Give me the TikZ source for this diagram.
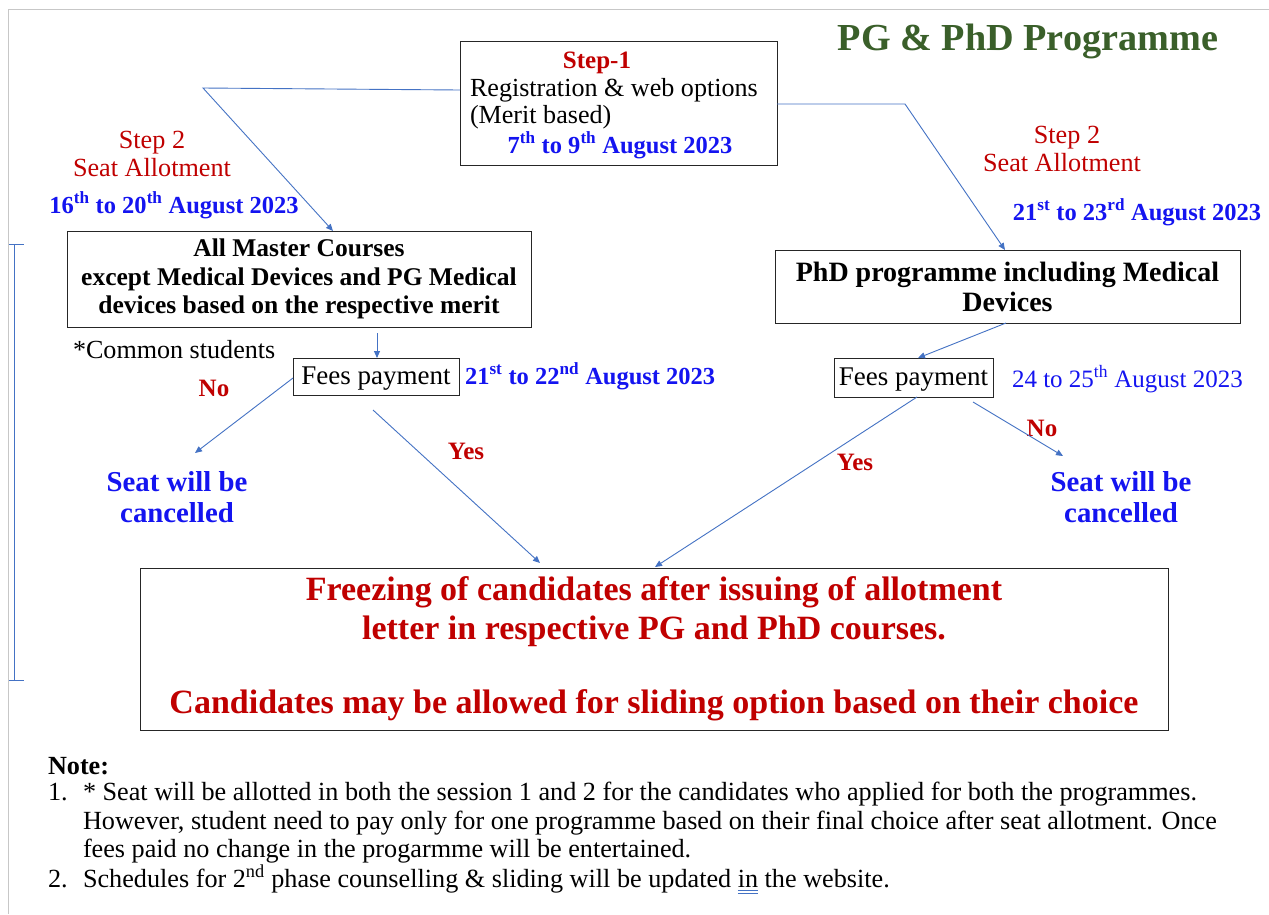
\documentclass[tikz,border=0pt]{standalone}
\usepackage{fontspec}
\setmainfont{Liberation Serif}
\usetikzlibrary{arrows.meta}
\definecolor{dred}{HTML}{C00000}
\definecolor{dblue}{HTML}{1414F0}
\definecolor{tgreen}{HTML}{3A5F2A}
\definecolor{lblue}{HTML}{4472C4}
\newcommand{\dblu}[1]{\setbox0\hbox{#1}\rlap{\color{lblue}\rule[-4pt]{\wd0}{0.8pt}}\rlap{\color{lblue}\rule[-7pt]{\wd0}{0.8pt}}\box0\relax}
\begin{document}
\begin{tikzpicture}[x=1pt,y=-1pt,
  every node/.style={inner sep=0pt, outer sep=0pt},
  box/.style={draw=black!85, line width=1pt},
  conn/.style={draw=lblue, line width=0.9pt, -{Triangle[length=7pt,width=6pt]}},
  body/.style={font=\fontsize{26.1}{29}\selectfont},
  bbody/.style={font=\fontsize{25.5}{28.5}\selectfont\bfseries},
  lbl/.style={font=\fontsize{25}{29}\selectfont\bfseries, text=dred},
  canc/.style={font=\fontsize{28.8}{31}\selectfont\bfseries, text=dblue, align=center},
  date/.style={font=\fontsize{24.5}{29}\selectfont\bfseries, text=dblue},
  stp/.style={font=\fontsize{26.2}{28}\selectfont, text=dred},
  note/.style={font=\fontsize{26.2}{29}\selectfont, anchor=base west}
]
\fill[white] (0,0) rectangle (1269,914);
\useasboundingbox (0,0) rectangle (1269,914);
% frame
\draw[black!22, line width=1pt] (8,914) -- (8,9) -- (1269,9);
% blue bracket
\draw[lblue, line width=0.9pt] (9,244) -- (24,244) (14,244) -- (14,680) (9,680) -- (24,680);

% title
\node[anchor=base, font=\fontsize{38.2}{40}\selectfont\bfseries, text=tgreen] (title) at (1028,50) {PG \& PhD Programme};

% step 1 box
\node[box, minimum width=317pt, minimum height=124pt] (s1) at (618.5,103) {};
\node[anchor=base, font=\fontsize{25}{28}\selectfont\bfseries, text=dred] (s1a) at (597,68) {Step-1};
\node[anchor=base west, body] (s1b) at (470,96) {Registration \& web options};
\node[anchor=base west, body] (s1c) at (470,123) {(Merit based)};
\node[anchor=base, date] (s1d) at (620,153) {7\textsuperscript{th} to 9\textsuperscript{th} August 2023};

% step 2 left
\node[anchor=base, stp] (l2a) at (152,148) {Step 2};
\node[anchor=base, stp] (l2b) at (152,176) {Seat Allotment};
\node[anchor=base, date] (l2c) at (174,213) {16\textsuperscript{th} to 20\textsuperscript{th} August 2023};

% step 2 right
\node[anchor=base, stp] (r2a) at (1067,143) {Step 2};
\node[anchor=base, stp] (r2b) at (1062,171) {Seat Allotment};
\node[anchor=base, date] (r2c) at (1137,220) {21\textsuperscript{st} to 23\textsuperscript{rd} August 2023};

% master box
\node[box, bbody, align=center, minimum width=464pt, minimum height=96pt] (master) at (299,279)
  {All Master Courses\\except Medical Devices and PG Medical\\devices based on the respective merit};
% phd box
\node[box, align=center, minimum width=465pt, minimum height=73pt,
  font=\fontsize{28}{30}\selectfont\bfseries] (phd) at (1007.5,286.5)
  {PhD programme including Medical\\Devices};

\node[anchor=base west, body] (common) at (73,358) {*Common students};

% fees boxes
\node[box, minimum width=166pt, minimum height=37pt] (feesL) at (376,376.5) {};
\node[anchor=base, font=\fontsize{27}{29}\selectfont] (feesLt) at (376,384) {Fees payment};
\node[anchor=base west, date] (feesLd) at (465,384) {21\textsuperscript{st} to 22\textsuperscript{nd} August 2023};

\node[box, minimum width=159pt, minimum height=39pt] (feesR) at (913.5,377.5) {};
\node[anchor=base, font=\fontsize{27}{29}\selectfont] (feesRt) at (913.5,385) {Fees payment};
\node[anchor=base west, font=\fontsize{25}{29}\selectfont, text=dblue] (feesRd) at (1012,387) {24 to 25\textsuperscript{th} August 2023};

% labels
\node[anchor=base, lbl] (noL) at (214,396) {No};
\node[anchor=base, lbl] (yesL) at (466,459) {Yes};
\node[anchor=base, lbl] (yesR) at (855,470) {Yes};
\node[anchor=base, lbl] (noR) at (1042,436) {No};

% cancelled
\node[canc] (cancL) at (177,497) {Seat will be\\cancelled};
\node[canc] (cancR) at (1121,497) {Seat will be\\cancelled};

% freezing box
\node[box, align=center, minimum width=1028pt, minimum height=162pt, text=dred,
  font=\fontsize{34}{39}\selectfont\bfseries] (freeze) at (654,649)
  {Freezing of candidates after issuing of allotment\\letter in respective PG and PhD courses.\\[35pt]Candidates may be allowed for sliding option based on their choice};

% connectors
\coordinate (bl) at (203,88);
\coordinate (br) at (905,104);
\coordinate (nL) at (195,453);
\coordinate (nR) at (1063,456);
\draw[conn] ([yshift=13pt]s1.west) -- (bl) -- ([xshift=34pt]master.north);
\draw[conn] ([yshift=-1pt]s1.east) -- (br) -- ([xshift=-2.5pt]phd.north);
\draw[conn] ([xshift=78pt,yshift=-6pt]master.south) -- ([xshift=1pt]feesL.north);
\draw[conn] ([xshift=-1.5pt]phd.south) -- ([xshift=4.5pt]feesR.north);
\draw[conn] ([yshift=-1.5pt]feesL.west) -- (nL);
\draw[conn] ([xshift=-3pt,yshift=-15pt]feesL.south) -- ([xshift=-114pt,yshift=5pt]freeze.north);
\draw[conn] ([xshift=3.5pt]feesR.south) -- ([xshift=1pt,yshift=1pt]freeze.north);
\draw[conn] ([xshift=59.5pt,yshift=-5pt]feesR.south) -- (nR);

% note
\node[note, font=\fontsize{26.2}{29}\selectfont\bfseries] (nt) at (48,774) {Note:};
\node[note] (n1) at (48,800) {1.};
\node[note] (n1a) at (83,800) {* Seat will be allotted in both the session 1 and 2 for the candidates who applied for both the programmes.};
\node[note] (n1b) at (83,829) {However, student need to pay only for one programme based on their final choice after seat allotment. Once};
\node[note] (n1c) at (83,857) {fees paid no change in the progarmme will be entertained.};
\node[note] (n2) at (48,887) {2.};
\node[note] (n2a) at (83,887) {Schedules for 2\textsuperscript{nd} phase counselling \& sliding will be updated \dblu{in} the website.};
\end{tikzpicture}
\end{document}
